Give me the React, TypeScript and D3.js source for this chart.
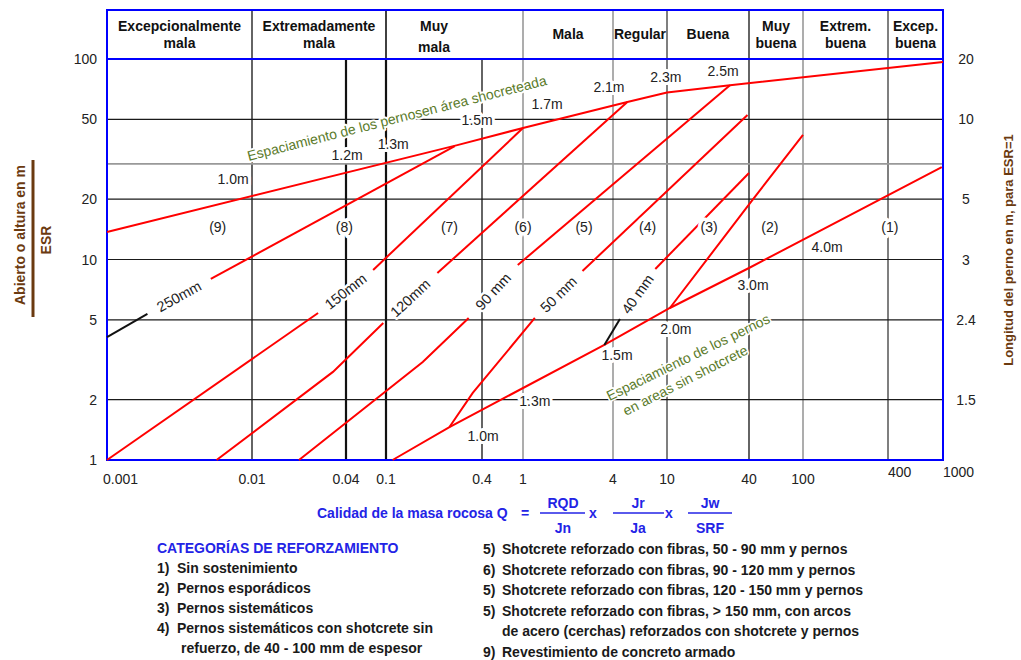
import * as d3 from 'd3';

type P = [number, number];

// Q axis (rock mass quality) and span / ESR axis
const qTicks = [0.001, 0.01, 0.04, 0.1, 0.4, 1, 4, 10, 40, 100, 400, 1000];
const qTickLabels = ['0.001', '0.01', '0.04', '0.1', '0.4', '1', '4', '10', '40', '100', '400', '1000'];
const spanTicks = [1, 2, 5, 10, 20, 50, 100];
const spanGrid = [2, 5, 10, 20, 30, 50];
const boltTicks = [2, 5, 10, 20, 50, 100];
const boltLabels = ['1.5', '2.4', '3', '5', '10', '20'];

// textTo: the label in the original sits over part of the class only
const qualityClasses: { lines: string[]; from: number; to: number; textTo?: number }[] = [
  { lines: ['Excepcionalmente', 'mala'], from: 0.001, to: 0.01 },
  { lines: ['Extremadamente', 'mala'], from: 0.01, to: 0.1 },
  { lines: ['Muy', 'mala'], from: 0.1, to: 1, textTo: 0.4 },
  { lines: ['Mala'], from: 1, to: 4 },
  { lines: ['Regular'], from: 4, to: 10 },
  { lines: ['Buena'], from: 10, to: 40 },
  { lines: ['Muy', 'buena'], from: 40, to: 100 },
  { lines: ['Extrem.', 'buena'], from: 100, to: 400 },
  { lines: ['Excep.', 'buena'], from: 400, to: 1000 },
];

const categories = [
  { label: '(9)', q: 0.0058 },
  { label: '(8)', q: 0.039 },
  { label: '(7)', q: 0.25 },
  { label: '(6)', q: 1 },
  { label: '(5)', q: 2.56 },
  { label: '(4)', q: 7.2 },
  { label: '(3)', q: 20.4 },
  { label: '(2)', q: 57 },
  { label: '(1)', q: 413 },
];
const categoryLevel = 14.5;

// bolt spacing in shotcreted area (upper envelope)
const spacingShotcrete: P[] = [[0.001, 13.7], [0.28, 37.2], [1, 45.3], [5.1, 61], [10, 68], [29, 74], [1000, 96.7]];
const spacingShotcreteLabels = [
  { t: '1.0m', q: 0.0074, v: 25.2 },
  { t: '1.2m', q: 0.041, v: 33.2 },
  { t: '1.3m', q: 0.111, v: 37.7 },
  { t: '1.5m', q: 0.373, v: 49.6 },
  { t: '1.7m', q: 1.45, v: 59.6 },
  { t: '2.1m', q: 3.76, v: 72.5 },
  { t: '2.3m', q: 9.8, v: 81.3 },
  { t: '2.5m', q: 25.8, v: 87.2 },
];

// bolt spacing in unshotcreted area (lower line)
const spacingOpen: P[] = [[0.11, 1], [0.25, 1.46], [3.5, 3.75], [10.5, 5.73], [40, 9.07], [980, 28.9]];
const spacingOpenLabels = [
  { t: '1.0m', q: 0.41, v: 1.32 },
  { t: '1.3m', q: 1.2, v: 1.97 },
  { t: '1.5m', q: 4.28, v: 3.34 },
  { t: '2.0m', q: 11.6, v: 4.5 },
  { t: '3.0m', q: 42.8, v: 7.46 },
  { t: '4.0m', q: 148, v: 11.5 },
];

// shotcrete thickness boundaries, split where the label sits
const thickness: { label: string; lower: P[]; upper: P[] }[] = [
  { label: '250mm', lower: [[0.001, 4.1], [0.0019, 5.35]], upper: [[0.0052, 8.0], [0.27, 36.8]] },
  { label: '150mm', lower: [[0.001, 1], [0.0265, 5.41]], upper: [[0.0745, 8.87], [1, 45.3]] },
  { label: '120mm', lower: [[0.0057, 1], [0.033, 2.75], [0.094, 4.82]], upper: [[0.21, 8.56], [5.1, 61]] },
  { label: '90 mm', lower: [[0.02, 1], [0.17, 3.08], [0.33, 5.11]], upper: [[0.89, 9.39], [29, 74]] },
  { label: '50 mm', lower: [[0.25, 1.46], [0.35, 2.16], [1.2, 5.11]], upper: [[2.5, 8.76], [39, 52.6]] },
  { label: '40 mm', lower: [[3.5, 3.75], [4.5, 5.05]], upper: [[8.2, 8.97], [40, 27]] },
];
const blackLeads = ['250mm', '40 mm'];

// limit between systematic and spot bolting
const boltLimit: P[] = [[10.5, 5.73], [40.7, 19.1], [100, 41.8]];

const legendLeft = [
  { n: '1)', t: 'Sin sostenimiento' },
  { n: '2)', t: 'Pernos esporádicos' },
  { n: '3)', t: 'Pernos sistemáticos' },
  { n: '4)', t: 'Pernos sistemáticos con shotcrete sin' },
  { n: '', t: 'refuerzo, de 40 - 100 mm de espesor' },
];
const legendRight = [
  { n: '5)', t: 'Shotcrete reforzado con fibras, 50 - 90 mm y pernos' },
  { n: '6)', t: 'Shotcrete reforzado con fibras, 90 - 120 mm y pernos' },
  { n: '5)', t: 'Shotcrete reforzado con fibras, 120 - 150 mm y pernos' },
  { n: '5)', t: 'Shotcrete reforzado con fibras, > 150 mm, con arcos' },
  { n: '', t: 'de acero (cerchas) reforzados con shotcrete y pernos' },
  { n: '9)', t: 'Revestimiento de concreto armado' },
];

const FONT = '"Liberation Sans", Arial, Helvetica, sans-serif';
const BLUE = '#0000ff';
const TXTBLUE = '#2323e6';
const BROWN = '#6b3a10';
const GREEN = '#5b7b2b';
const RED = '#ff0000';

const vStyle = (q: number) => {
  if (q === 0.04 || q === 0.1) return { c: '#111', w: 2.2 };
  if (q === 1 || q === 4 || q === 100) return { c: '#999', w: 1.6 };
  if (q === 10 || q === 400) return { c: '#555', w: 1.5 };
  return { c: '#111', w: 1.3 };
};
const hStyle = (v: number) => (v === 30 ? { c: '#999', w: 1.6 } : { c: '#1a1a1a', w: 1.2 });

export default function App() {
  const left = 107, right = 943, top = 59, bottom = 460, headTop = 10;

  const x = d3.scaleLog()
    .domain(qTicks)
    .range([left, 252, 346, 386, 482, 523, 613, 667, 749, 803, 888, right]);
  const y = d3.scaleLog().domain([1, 100]).range([bottom, top]);
  const line = d3.line<P>().x(d => x(d[0])).y(d => y(d[1]));

  const halo = (w: number) => ({ stroke: '#fff', strokeWidth: w, paintOrder: 'stroke' as const, strokeLinejoin: 'round' as const });
  const inner = qTicks.slice(1, -1);

  return (
    <svg width={1021} height={660} style={{ position: 'absolute', left: 0, top: 0, fontFamily: FONT }}>
      <rect width={1021} height={660} fill="#fff" />

      {/* grid */}
      {inner.map(q => {
        const s = vStyle(q);
        return <line key={'v' + q} x1={x(q)} x2={x(q)} y1={top} y2={bottom} stroke={s.c} strokeWidth={s.w} />;
      })}
      {spanGrid.map(v => {
        const s = hStyle(v);
        return <line key={'h' + v} x1={left} x2={right} y1={y(v)} y2={y(v)} stroke={s.c} strokeWidth={s.w} />;
      })}

      {/* header separators */}
      {qualityClasses.slice(1).map(c => {
        const s = vStyle(c.from);
        return <line key={'hs' + c.from} x1={x(c.from)} x2={x(c.from)} y1={headTop} y2={top} stroke={s.c} strokeWidth={Math.min(s.w, 1.6)} />;
      })}
      {qualityClasses.map(c => {
        const cx = (x(c.from) + x(c.textTo ?? c.to)) / 2;
        const ys = c.lines.length === 2 ? (c.textTo ? [31, 52] : [31, 48]) : [39];
        return c.lines.map((t, i) => (
          <text key={c.from + t} x={cx} y={ys[i]} textAnchor="middle" fontSize={14} fontWeight="bold" fill="#111">{t}</text>
        ));
      })}

      {/* frame */}
      <rect x={left} y={headTop} width={right - left} height={bottom - headTop} fill="none" stroke={BLUE} strokeWidth={2} />
      <line x1={left} x2={right} y1={top} y2={top} stroke={BLUE} strokeWidth={2} />

      {/* support lines */}
      <path d={line(spacingShotcrete) || ''} fill="none" stroke={RED} strokeWidth={2} />
      <path d={line(spacingOpen) || ''} fill="none" stroke={RED} strokeWidth={2} />
      <path d={line(boltLimit) || ''} fill="none" stroke={RED} strokeWidth={2} />
      {thickness.map(t => (
        <g key={t.label}>
          <path d={line(t.lower) || ''} fill="none" stroke={blackLeads.includes(t.label) ? '#111' : RED} strokeWidth={2} />
          <path d={line(t.upper) || ''} fill="none" stroke={RED} strokeWidth={2} />
        </g>
      ))}

      {/* thickness labels in the gaps */}
      {thickness.map(t => {
        const a = t.lower[t.lower.length - 1];
        const b = t.upper[0];
        const x0 = x(a[0]), y0 = y(a[1]), x1 = x(b[0]), y1 = y(b[1]);
        const ang = (Math.atan2(y1 - y0, x1 - x0) * 180) / Math.PI;
        const mx = (x0 + x1) / 2, my = (y0 + y1) / 2;
        return (
          <text key={'l' + t.label} x={mx} y={my} transform={`rotate(${ang},${mx},${my})`} textAnchor="middle"
            dominantBaseline="central" fontSize={14.5} fill="#222" style={halo(5)}>{t.label}</text>
        );
      })}

      {/* spacing labels */}
      {[...spacingShotcreteLabels, ...spacingOpenLabels].map((d, i) => (
        <text key={'s' + i} x={x(d.q)} y={y(d.v)} textAnchor="middle" dominantBaseline="central" fontSize={14} fill="#222" style={halo(6)}>{d.t}</text>
      ))}
      {categories.map(c => (
        <text key={c.label} x={x(c.q)} y={y(categoryLevel)} textAnchor="middle" dominantBaseline="central" fontSize={14} fill="#222" style={halo(7)}>{c.label}</text>
      ))}

      {/* green annotations */}
      {(() => {
        const px = x(0.117), py = y(50.8);
        return (
          <text x={px} y={py} transform={`rotate(-14.3,${px},${py})`} textAnchor="middle" dominantBaseline="central"
            fontSize={14} fill={GREEN} style={halo(4)}>Espaciamiento de los pernosen área shocreteada</text>
        );
      })()}
      {(() => {
        const p1 = [x(14.3), y(3.26)], p2 = [x(13.6), y(2.5)];
        return (
          <g>
            <text x={p1[0]} y={p1[1]} transform={`rotate(-26,${p1[0]},${p1[1]})`} textAnchor="middle" dominantBaseline="central"
              fontSize={14} fill={GREEN} style={halo(3)}>Espaciamiento de los pernos</text>
            <text x={p2[0]} y={p2[1]} transform={`rotate(-27,${p2[0]},${p2[1]})`} textAnchor="middle" dominantBaseline="central"
              fontSize={14} fill={GREEN} style={halo(3)}>en areas sin shotcrete</text>
          </g>
        );
      })()}

      {/* left axis */}
      {spanTicks.map(v => (
        <text key={'ly' + v} x={97} y={y(v) + 5} textAnchor="end" fontSize={14} fill="#222">{v}</text>
      ))}
      {/* right axis: bolt length */}
      {boltTicks.map((v, i) => (
        <text key={'ry' + v} x={966} y={y(v) + 5} textAnchor="middle" fontSize={14} fill="#222">{boltLabels[i]}</text>
      ))}
      {/* bottom axis */}
      {qTicks.map((q, i) => {
        const first = i === 0;
        const raised = q >= 400;
        return (
          <text key={'xq' + q} x={first ? x(q) - 4 : x(q)} y={raised ? 477 : 484}
            textAnchor={first || raised ? 'start' : 'middle'} fontSize={14} fill="#222">{qTickLabels[i]}</text>
        );
      })}

      {/* axis titles */}
      <text x={20} y={235} transform="rotate(-90,20,235)" textAnchor="middle" dominantBaseline="central" fontSize={14} fontWeight="bold" fill={BROWN}>Abierto o altura en m</text>
      <line x1={33} x2={33} y1={160} y2={317} stroke={BROWN} strokeWidth={3} />
      <text x={46} y={240} transform="rotate(-90,46,240)" textAnchor="middle" dominantBaseline="central" fontSize={14} fontWeight="bold" fill={BROWN}>ESR</text>
      <text x={1008} y={250} transform="rotate(-90,1008,250)" textAnchor="middle" dominantBaseline="central" fontSize={13} fontWeight="bold" fill={BROWN}>Longitud del perno en m, para ESR=1</text>

      {/* formula */}
      <g fill={TXTBLUE} fontWeight="bold" fontSize={14}>
        <text x={317} y={518}>Calidad de la masa rocosa Q</text>
        <text x={525} y={518} textAnchor="middle">=</text>
        <text x={563} y={508} textAnchor="middle">RQD</text>
        <text x={563} y={533} textAnchor="middle">Jn</text>
        <text x={593} y={518} textAnchor="middle">x</text>
        <text x={638} y={508} textAnchor="middle">Jr</text>
        <text x={638} y={533} textAnchor="middle">Ja</text>
        <text x={669} y={518} textAnchor="middle">x</text>
        <text x={710} y={508} textAnchor="middle">Jw</text>
        <text x={710} y={533} textAnchor="middle">SRF</text>
      </g>
      <g stroke={TXTBLUE} strokeWidth={1.5}>
        <line x1={540} x2={585} y1={513} y2={513} />
        <line x1={613} x2={664} y1={513} y2={513} />
        <line x1={688} x2={732} y1={513} y2={513} />
      </g>

      {/* legend */}
      <text x={157} y={553} fontSize={14} fontWeight="bold" fill={TXTBLUE}>CATEGORÍAS DE REFORZAMIENTO</text>
      {legendLeft.map((d, i) => (
        <g key={'ll' + i} fontSize={14} fontWeight="bold" fill="#1a1a1a">
          <text x={157} y={573 + i * 20}>{d.n}</text>
          <text x={d.n ? 177 : 181} y={573 + i * 20}>{d.t}</text>
        </g>
      ))}
      {legendRight.map((d, i) => (
        <g key={'lr' + i} fontSize={14} fontWeight="bold" fill="#1a1a1a">
          <text x={483} y={554 + i * 20.6}>{d.n}</text>
          <text x={502} y={554 + i * 20.6}>{d.t}</text>
        </g>
      ))}
    </svg>
  );
}
